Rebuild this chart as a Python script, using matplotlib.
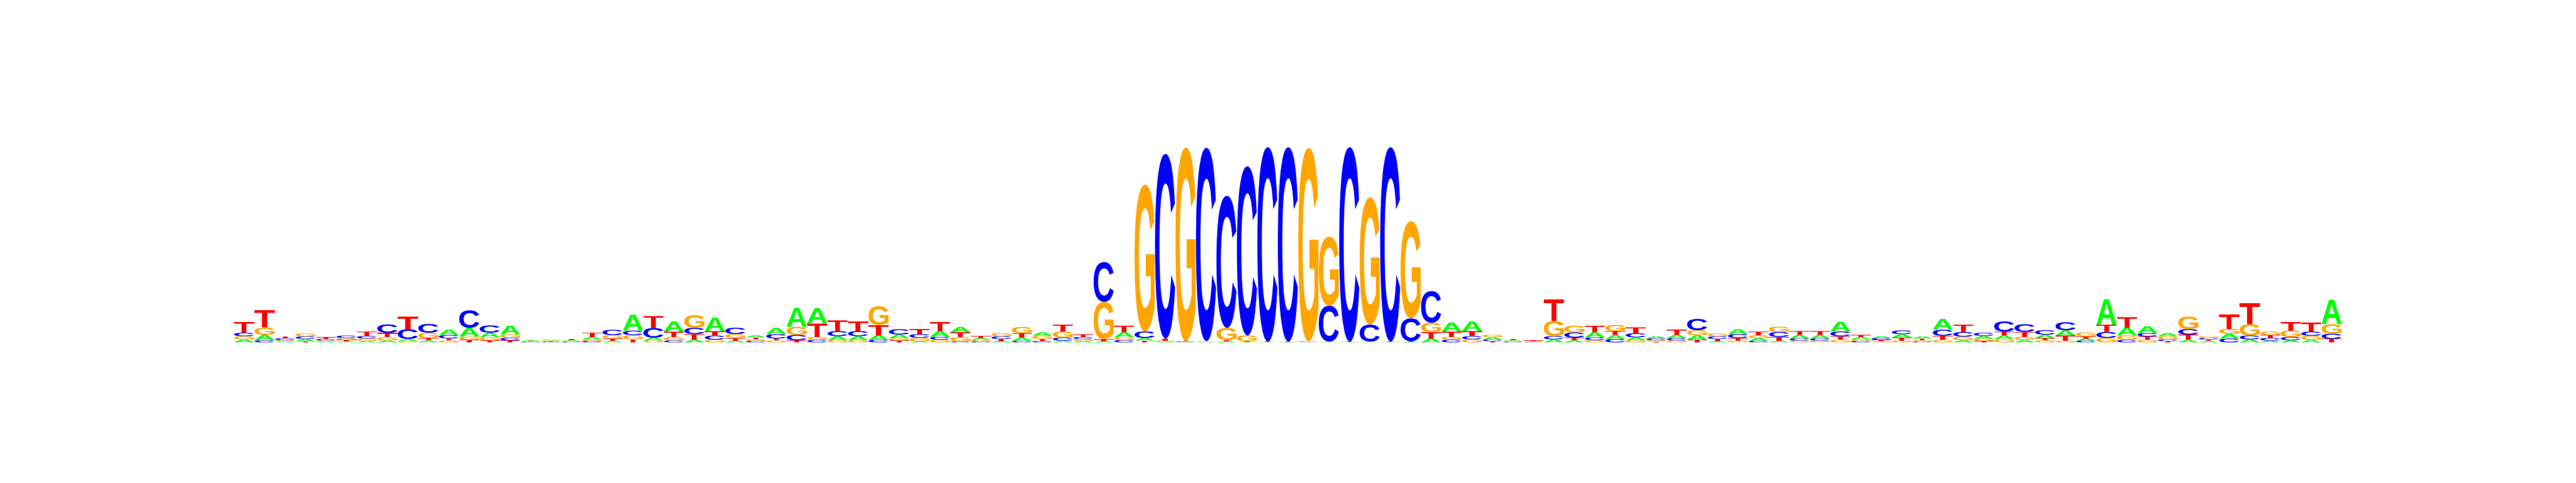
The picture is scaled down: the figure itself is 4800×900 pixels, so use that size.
'''
Sequence logo of a GC rich motif, letter heights in bits
'''

import matplotlib
matplotlib.use('Agg')

import matplotlib.pyplot as plt

from matplotlib.textpath     import TextPath
from matplotlib.patches      import PathPatch
from matplotlib.font_manager import FontProperties
from matplotlib.transforms   import Affine2D

#-------------------------------------
l_letter = ['A', 'C', 'G', 'T']

# heights (bits) per position, one list per base
A_h = [0.03, 0.055, 0.008, 0.025, 0.008, 0.01, 0.015, 0.02, 0.02, 0.02,
       0.055, 0.09, 0.045, 0.09, 0.01, 0.01, 0.01, 0.025, 0.015, 0.165,
       0.028, 0.105, 0.03, 0.14, 0.018, 0.022, 0.065, 0.195, 0.157, 0.042,
       0.042, 0.045, 0.037, 0.01, 0.059, 0.055, 0.018, 0.013, 0.033, 0.035,
       0.018, 0.015, 0.012, 0.05, 0.027, 0.008, 0.005, 0.004, 0.012, 0.006,
       0.003, 0.003, 0.003, 0.004, 0.003, 0.004, 0.003, 0.006, 0.04, 0.095,
       0.10, 0.024, 0.01, 0.006, 0.031, 0.022, 0.052, 0.04, 0.03, 0.02,
       0.035, 0.046, 0.013, 0.05, 0.029, 0.017, 0.037, 0.036, 0.10, 0.022,
       0.019, 0.036, 0.022, 0.11, 0.022, 0.03, 0.036, 0.026, 0.037, 0.055,
       0.021, 0.263, 0.079, 0.07, 0.034, 0.026, 0.014, 0.049, 0.031, 0.018,
       0.022, 0.026, 0.252]

C_h = [0.036, 0.022, 0.02, 0.027, 0.015, 0.025, 0.026, 0.087, 0.10, 0.09,
       0.035, 0.18, 0.075, 0.027, 0.005, 0.005, 0.005, 0.015, 0.055, 0.046,
       0.10, 0.02, 0.065, 0.042, 0.065, 0.015, 0.045, 0.055, 0.026, 0.052,
       0.052, 0.028, 0.055, 0.038, 0.029, 0.01, 0.01, 0.028, 0.015, 0.013,
       0.031, 0.021, 0.41, 0.024, 0.068, 1.90, 0.005, 1.99, 1.36, 1.74,
       2.0, 2.0, 0.004, 0.37, 2.0, 0.175, 2.0, 0.235, 0.326, 0.028,
       0.033, 0.017, 0.005, 0.003, 0.033, 0.052, 0.03, 0.035, 0.042, 0.019,
       0.024, 0.116, 0.028, 0.04, 0.015, 0.05, 0.022, 0.022, 0.05, 0.015,
       0.018, 0.038, 0.008, 0.063, 0.048, 0.033, 0.105, 0.08, 0.046, 0.083,
       0.018, 0.061, 0.026, 0.036, 0.018, 0.056, 0.017, 0.04, 0.04, 0.028,
       0.033, 0.043, 0.052]

G_h = [0.034, 0.075, 0.015, 0.03, 0.012, 0.02, 0.025, 0.033, 0.015, 0.055,
       0.02, 0.035, 0.035, 0.035, 0.005, 0.01, 0.008, 0.015, 0.035, 0.045,
       0.02, 0.035, 0.13, 0.028, 0.04, 0.018, 0.02, 0.083, 0.03, 0.022,
       0.022, 0.195, 0.024, 0.037, 0.028, 0.044, 0.017, 0.033, 0.065, 0.034,
       0.063, 0.02, 0.385, 0.03, 1.51, 0.01, 1.99, 0.005, 0.125, 0.06,
       0.003, 0.003, 1.99, 0.71, 0.003, 1.31, 0.003, 1.0, 0.095, 0.03,
       0.031, 0.025, 0.008, 0.003, 0.157, 0.07, 0.022, 0.063, 0.022, 0.015,
       0.02, 0.052, 0.03, 0.015, 0.03, 0.055, 0.018, 0.018, 0.026, 0.018,
       0.01, 0.018, 0.015, 0.026, 0.037, 0.022, 0.035, 0.031, 0.021, 0.018,
       0.042, 0.046, 0.046, 0.026, 0.032, 0.129, 0.018, 0.05, 0.116, 0.037,
       0.068, 0.042, 0.098]

T_h = [0.11, 0.18, 0.02, 0.01, 0.02, 0.015, 0.045, 0.045, 0.13, 0.025,
       0.021, 0.025, 0.02, 0.02, 0.005, 0.005, 0.012, 0.045, 0.025, 0.03,
       0.125, 0.055, 0.055, 0.045, 0.028, 0.018, 0.02, 0.022, 0.14, 0.11,
       0.10, 0.105, 0.02, 0.052, 0.092, 0.05, 0.019, 0.022, 0.046, 0.022,
       0.068, 0.028, 0.02, 0.068, 0.018, 0.022, 0.005, 0.004, 0.012, 0.006,
       0.003, 0.003, 0.003, 0.004, 0.003, 0.004, 0.003, 0.006, 0.067, 0.052,
       0.052, 0.013, 0.01, 0.008, 0.22, 0.028, 0.07, 0.041, 0.059, 0.008,
       0.052, 0.028, 0.022, 0.031, 0.037, 0.04, 0.038, 0.04, 0.037, 0.023,
       0.016, 0.031, 0.017, 0.042, 0.077, 0.015, 0.04, 0.05, 0.022, 0.052,
       0.022, 0.074, 0.11, 0.035, 0.013, 0.055, 0.015, 0.147, 0.214, 0.029,
       0.087, 0.094, 0.037]

d_color = {'A' : '#00FF00', 'C' : '#0000FF', 'G' : '#FFA500', 'T' : '#FF0000'}
#-------------------------------------
FONT = FontProperties(family='Liberation Sans', weight='bold')

def _glyph(letter):
    path = TextPath((0, 0), letter, size=1, prop=FONT)
    return path, path.get_extents()
#-------------------------------------
def _draw_letter(ax, letter, xpos, ypos, height, width=0.98):
    path, ext = _glyph(letter)
    trf = Affine2D().translate(-ext.x0, -ext.y0)
    trf = trf.scale(width / ext.width, height / ext.height)
    trf = trf.translate(xpos + (1 - width) / 2., ypos)
    patch = PathPatch(trf.transform_path(path), facecolor=d_color[letter],
                      edgecolor='none', lw=0)
    ax.add_patch(patch)
#-------------------------------------
def main():
    '''
    Script starts here
    '''
    fig = plt.figure(figsize=(48, 9), dpi=100)
    ax  = fig.add_axes([0.0908, 0.2911, 0.8183, 2.2 * 181 / 900.])

    l_cols = list(zip(A_h, C_h, G_h, T_h))
    for ipos, l_hgt in enumerate(l_cols):
        l_pair = sorted(zip(l_hgt, l_letter), key=lambda p: p[0])
        ybase  = 0.
        for hgt, letter in l_pair:
            _draw_letter(ax, letter, ipos, ybase, hgt)
            ybase += hgt

    ax.set_xlim(0, len(l_cols))
    ax.set_ylim(0, 2.2)
    ax.axis('off')

    fig.savefig('out.png', dpi=100, facecolor='white')
    plt.close(fig)
#-------------------------------------
if __name__ == '__main__':
    main()
